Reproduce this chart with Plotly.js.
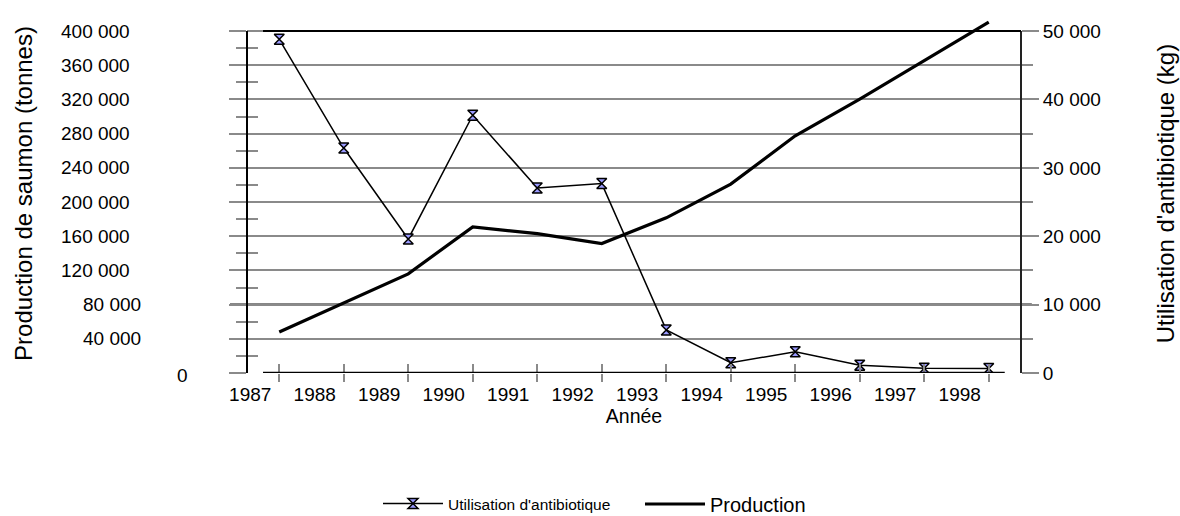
<!DOCTYPE html>
<html><head><meta charset="utf-8">
<script src="https://cdn.plot.ly/plotly-3.0.1.min.js"></script>
<style>html,body{margin:0;padding:0;background:#fff}</style>
</head><body><div id="chart" style="width:1180px;height:516px"></div>
<script>
// ---- data ----
const years = [1987, 1988, 1989, 1990, 1991, 1992, 1993, 1994, 1995, 1996, 1997, 1998];
const antibiotique = [48800, 32900, 19600, 37700, 27050, 27700, 6300, 1500, 3100, 1150, 700, 650]; // kg
const production = [48000, 82000, 116000, 171000, 163000, 151500, 181500, 221000, 277500, 320500, 366000, 410500]; // tonnes
const prodTicks = [0, 40000, 80000, 120000, 160000, 200000, 240000, 280000, 320000, 360000, 400000];
const prodMinor = [20000, 60000, 100000, 140000, 180000, 220000, 260000, 300000, 340000, 380000];
const antiTicks = [0, 10000, 20000, 30000, 40000, 50000];
const antiMinor = [5000, 15000, 25000, 35000, 45000];
const yearLabels = years.map(String);
const seriesNames = ["Utilisation d'antibiotique", "Production"];
const titles = {x: "Année", yLeft: "Production de saumon (tonnes)", yRight: "Utilisation d'antibiotique (kg)"};

function fmt(v) { return String(v).replace(/\B(?=(\d{3})+(?!\d))/g, ' '); }

const FONT = 'Liberation Sans, Arial, Helvetica, sans-serif';
const GRID = '#8a8a8a';
const xRange = [years[0] - 0.5, years[years.length - 1] + 0.5];
const yTop = prodTicks[prodTicks.length - 1];
const yRange = [0, 420000];
const y2Range = [0, 52500];

const traces = [
  {
    x: years, y: antibiotique, xaxis: 'x', yaxis: 'y2',
    type: 'scatter', mode: 'lines+markers', name: seriesNames[0], legend: 'legend',
    line: {color: '#000', width: 1.5},
    marker: {symbol: 'hourglass', size: 10, color: '#9a9aff', line: {color: '#000', width: 1.5}},
    hoverinfo: 'x+y'
  },
  {
    x: years, y: production, xaxis: 'x', yaxis: 'y',
    type: 'scatter', mode: 'lines', name: seriesNames[1], legend: 'legend2',
    line: {color: '#000', width: 3.2},
    hoverinfo: 'x+y'
  },
  // empty helper trace so the overlay axes carrying the inner tick marks get drawn
  {x: [], y: [], xaxis: 'x3', yaxis: 'y3', type: 'scatter', mode: 'lines', showlegend: false, hoverinfo: 'skip'}
];

// left tick labels (quirky alignment in the original)
const leftLabelX = v => (v === 0 ? -0.0736 : (v <= 80000 ? -0.1344 : -0.1486));
const annotations = prodTicks.map(v => ({
  xref: 'paper', yref: 'y', x: leftLabelX(v), y: v, xanchor: 'right', yanchor: 'middle',
  text: fmt(v), showarrow: false, font: {family: FONT, size: 19, color: '#000'},
  yshift: v === 0 ? -2 : 0
}));

const shapes = [
  {type: 'line', xref: 'paper', yref: 'y', x0: -0.022, x1: 1.014, y0: 80000, y1: 80000, layer: 'between', line: {color: '#5e5e5e', width: 2.5}},
  {type: 'line', xref: 'paper', yref: 'y', x0: 0, x1: 0, y0: 0, y1: yTop, line: {color: '#000', width: 2}},
  {type: 'line', xref: 'paper', yref: 'y', x0: 1, x1: 1, y0: 0, y1: yTop, line: {color: '#222', width: 2}},
  {type: 'line', xref: 'paper', yref: 'y', x0: 0.0207, x1: 1, y0: yTop, y1: yTop, line: {color: '#000', width: 2}},
  {type: 'line', xref: 'paper', yref: 'y', x0: 0.0207, x1: 0.979, y0: 0, y1: 0, line: {color: '#000', width: 2.5}}
];

const layout = {
  width: 1180, height: 516,
  margin: {l: 247, r: 159, t: 14, b: 143, autoexpand: false},
  paper_bgcolor: '#fff', plot_bgcolor: '#fff',
  font: {family: FONT, size: 19, color: '#000'},
  separators: ', ',
  hovermode: 'closest',
  xaxis: {
    range: xRange,
    tickvals: years.map(y => y - 0.45), ticktext: yearLabels,
    ticks: 'outside', ticklen: 4, tickcolor: 'rgba(0,0,0,0)',
    minor: {tickvals: years, ticks: 'outside', ticklen: 8, tickwidth: 1.5, tickcolor: GRID, showgrid: false},
    showgrid: false, zeroline: false, showline: false, fixedrange: true,
    tickfont: {size: 19},
    title: {text: titles.x, font: {size: 19.5}, standoff: 1}
  },
  xaxis3: {
    overlaying: 'x', anchor: 'y3', side: 'bottom', range: xRange,
    tickvals: years, ticks: 'inside', ticklen: 9, tickwidth: 1.5, tickcolor: GRID,
    showticklabels: false, showgrid: false, zeroline: false, showline: false, fixedrange: true
  },
  yaxis: {
    range: yRange, tickvals: prodTicks, ticks: 'outside', ticklen: 17, tickwidth: 2, tickcolor: GRID,
    showticklabels: false, showgrid: false, zeroline: false, showline: false, fixedrange: true,
    minor: {tickvals: prodMinor, ticks: 'outside', ticklen: 10, tickwidth: 1.5, tickcolor: GRID, showgrid: false},
    title: {text: titles.yLeft, font: {size: 24}, standoff: 189}
  },
  yaxis3: {
    overlaying: 'y', anchor: 'x3', side: 'left', range: yRange,
    tickvals: prodMinor, ticks: 'inside', ticklen: 11, tickwidth: 1.5, tickcolor: GRID,
    showticklabels: false, showgrid: false, zeroline: false, showline: false, fixedrange: true
  },
  yaxis2: {
    overlaying: 'y', anchor: 'x', side: 'right', range: y2Range,
    tickvals: antiTicks, ticktext: antiTicks.map(fmt),
    ticks: 'outside', ticklen: 17, tickwidth: 2, tickcolor: GRID,
    showgrid: true, gridcolor: GRID, gridwidth: 2,
    minor: {tickvals: antiMinor, ticks: 'outside', ticklen: 11, tickwidth: 2, tickcolor: GRID, showgrid: true, gridcolor: GRID, gridwidth: 2},
    zeroline: false, showline: false, fixedrange: true,
    tickfont: {size: 19},
    title: {text: titles.yRight, font: {size: 24}, standoff: 57}
  },
  showlegend: true,
  legend: {xref: 'container', yref: 'container', x: 378 / 1180, xanchor: 'left', y: 1 - 504 / 516, yanchor: 'middle',
           orientation: 'h', font: {size: 15.5}, bgcolor: 'rgba(0,0,0,0)', itemwidth: 60},
  legend2: {xref: 'container', yref: 'container', x: 640 / 1180, xanchor: 'left', y: 1 - 504 / 516, yanchor: 'middle',
            orientation: 'h', font: {size: 20}, bgcolor: 'rgba(0,0,0,0)', itemwidth: 60},
  annotations: annotations,
  shapes: shapes
};

Plotly.newPlot('chart', traces, layout, {displayModeBar: false, responsive: false});
</script>
</body></html>
